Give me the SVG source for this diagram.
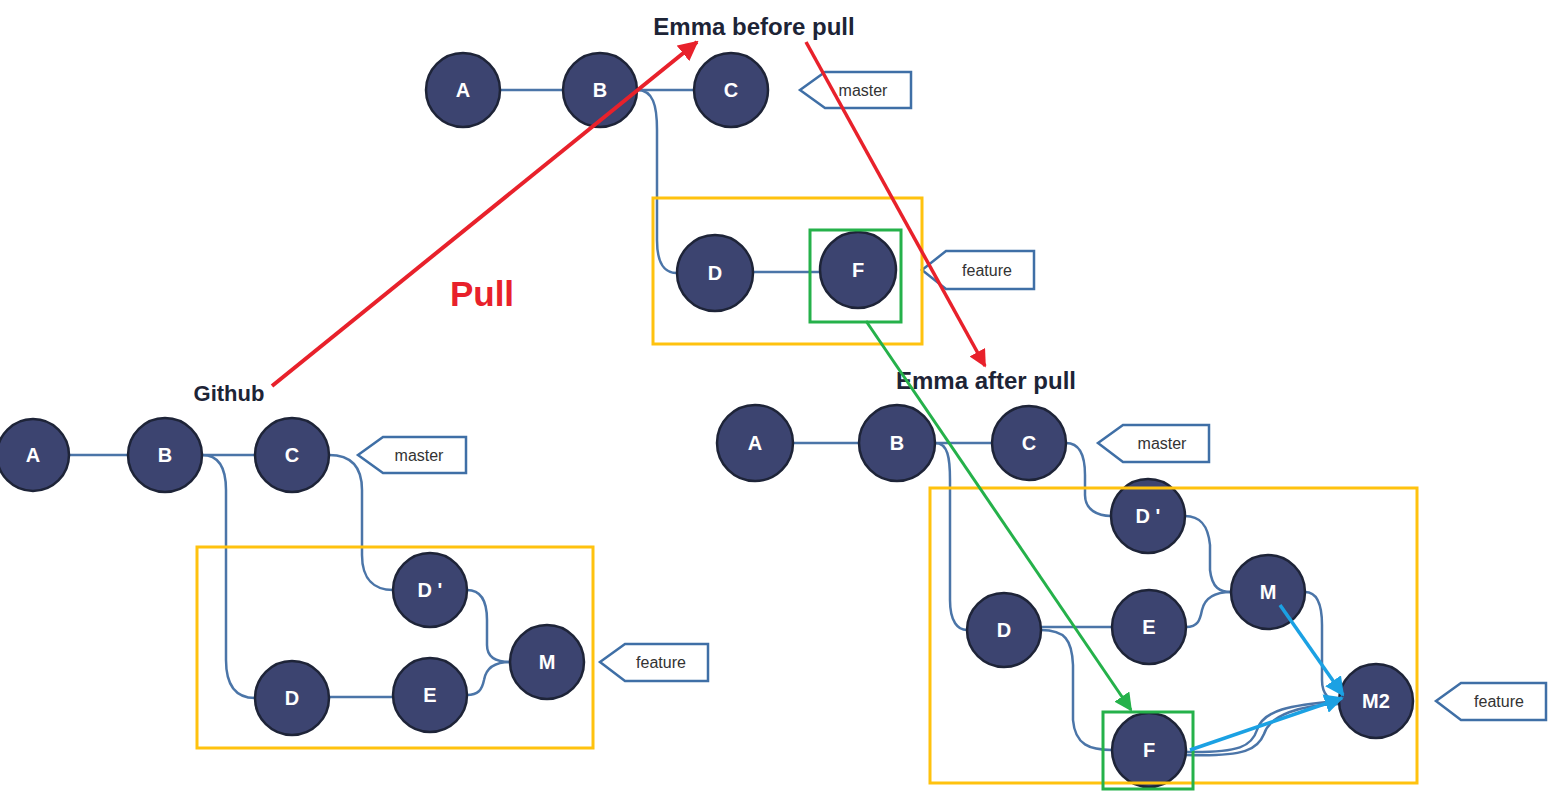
<svg xmlns="http://www.w3.org/2000/svg" width="1555" height="793" viewBox="0 0 1555 793">
<defs>
<style>
.node circle{fill:#3c4470;stroke:#1e2438;stroke-width:2.5}
.node text{fill:#fff;font-family:"Liberation Sans",Arial,sans-serif;font-size:20px;font-weight:bold;text-anchor:middle;dominant-baseline:central}
.edge{fill:none;stroke:#4b75a8;stroke-width:2.5}
.tag polygon{fill:#fff;stroke:#3f6fa6;stroke-width:2.5}
.tag text{fill:#333;font-family:"Liberation Sans",Arial,sans-serif;font-size:16px;text-anchor:middle;dominant-baseline:central}
.title{fill:#1d2436;font-family:"Liberation Sans",Arial,sans-serif;font-weight:bold;text-anchor:middle}
.ybox{fill:none;stroke:#FFC20E;stroke-width:3}
.gbox{fill:none;stroke:#25B14A;stroke-width:3}
</style>
<marker id="ar" viewBox="0 0 10 10" refX="9" refY="5" markerWidth="5" markerHeight="5" orient="auto" markerUnits="strokeWidth"><path d="M0,0 L10,5 L0,10 z" fill="#E8212B"/></marker>
<marker id="ag" viewBox="0 0 10 10" refX="9" refY="5" markerWidth="6" markerHeight="6" orient="auto" markerUnits="strokeWidth"><path d="M0,0 L10,5 L0,10 z" fill="#25B14A"/></marker>
<marker id="ab" viewBox="0 0 10 10" refX="9" refY="5" markerWidth="5.5" markerHeight="5.5" orient="auto" markerUnits="strokeWidth"><path d="M0,0 L10,5 L0,10 z" fill="#1BA1E3"/></marker>
</defs>
<rect width="1555" height="793" fill="#fff"/>

<!-- Titles -->
<text class="title" x="754" y="35" font-size="24">Emma before pull</text>
<text class="title" x="229" y="401" font-size="22">Github</text>
<text class="title" x="986" y="389" font-size="24">Emma after pull</text>
<text x="482" y="306" fill="#E8212B" font-family="'Liberation Sans',Arial,sans-serif" font-weight="bold" font-size="35" text-anchor="middle">Pull</text>

<!-- Connectors between commits -->
<g id="connectors">
<path class="edge" d="M501,90 H563"/>
<path class="edge" d="M637,90 H694"/>
<path class="edge" d="M637,90 C653,90 657,105 657,130 V240 C657,265 665,273 677,273"/>
<path class="edge" d="M753,272 H820"/>

<path class="edge" d="M70,455 H128"/>
<path class="edge" d="M202,455 H255"/>
<path class="edge" d="M202,455 C220,455 226,470 226,490 V660 C226,690 240,698 255,698"/>
<path class="edge" d="M329,455 C350,455 362,465 362,490 V555 C362,580 375,590 393,590"/>
<path class="edge" d="M329,697 H393"/>
<path class="edge" d="M467,590 C480,590 487,600 487,620 V645 C487,660 500,662 510,662"/>
<path class="edge" d="M467,695 C478,695 482,690 484,680 C486,668 495,662 510,662"/>

<path class="edge" d="M793,443 H860"/>
<path class="edge" d="M935,443 H992"/>
<path class="edge" d="M935,443 C948,443 950,458 950,480 V600 C950,622 958,630 967,630"/>
<path class="edge" d="M1066,443 C1080,443 1085,455 1085,475 V495 C1085,510 1098,516 1111,516"/>
<path class="edge" d="M1041,627 H1112"/>
<path class="edge" d="M1185,516 C1200,516 1208,525 1210,545 V570 C1212,588 1220,592 1231,592"/>
<path class="edge" d="M1186,627 C1198,627 1200,620 1202,610 C1205,597 1215,592 1231,592"/>
<path class="edge" d="M1041,630 C1065,630 1072,640 1073,665 V720 C1075,745 1090,750 1112,750"/>
<path class="edge" d="M1305,592 C1318,592 1322,605 1322,625 V680 C1322,695 1330,701 1339,701"/>
<path class="edge" d="M1186,752 C1240,753 1252,746 1257,730 C1263,710 1290,705 1339,701"/>
<path class="edge" d="M1186,755 C1246,757 1258,749 1264,734 C1270,715 1300,705 1339,704"/>
</g>

<!-- Emma before pull nodes -->
<g id="top-A" class="node"><circle cx="463" cy="90" r="37"/><text x="463" y="90">A</text></g>
<g id="top-B" class="node"><circle cx="600" cy="90" r="37"/><text x="600" y="90">B</text></g>
<g id="top-C" class="node"><circle cx="731" cy="90" r="37"/><text x="731" y="90">C</text></g>
<g id="top-D" class="node"><circle cx="715" cy="273" r="38"/><text x="715" y="273">D</text></g>
<g id="top-F" class="node"><circle cx="858" cy="270" r="38"/><text x="858" y="270">F</text></g>
<g id="top-master" class="tag"><polygon points="800,90 825,72 911,72 911,108 825,108"/><text x="863" y="90">master</text></g>
<g id="top-feature" class="tag"><polygon points="922,270 946,251 1034,251 1034,289 946,289"/><text x="987" y="270">feature</text></g>

<!-- Github nodes -->
<g id="gh-A" class="node"><circle cx="33" cy="455" r="36"/><text x="33" y="455">A</text></g>
<g id="gh-B" class="node"><circle cx="165" cy="455" r="37"/><text x="165" y="455">B</text></g>
<g id="gh-C" class="node"><circle cx="292" cy="455" r="37"/><text x="292" y="455">C</text></g>
<g id="gh-Dp" class="node"><circle cx="430" cy="590" r="37"/><text x="430" y="590">D '</text></g>
<g id="gh-D" class="node"><circle cx="292" cy="698" r="37"/><text x="292" y="698">D</text></g>
<g id="gh-E" class="node"><circle cx="430" cy="695" r="37"/><text x="430" y="695">E</text></g>
<g id="gh-M" class="node"><circle cx="547" cy="662" r="37"/><text x="547" y="662">M</text></g>
<g id="gh-master" class="tag"><polygon points="358,455 383,437 466,437 466,473 383,473"/><text x="419" y="455">master</text></g>
<g id="gh-feature" class="tag"><polygon points="600,662 625,644 708,644 708,681 625,681"/><text x="661" y="662">feature</text></g>

<!-- Emma after pull nodes -->
<g id="af-A" class="node"><circle cx="755" cy="443" r="38"/><text x="755" y="443">A</text></g>
<g id="af-B" class="node"><circle cx="897" cy="443" r="38"/><text x="897" y="443">B</text></g>
<g id="af-C" class="node"><circle cx="1029" cy="443" r="37"/><text x="1029" y="443">C</text></g>
<g id="af-Dp" class="node"><circle cx="1148" cy="516" r="37"/><text x="1148" y="516">D '</text></g>
<g id="af-D" class="node"><circle cx="1004" cy="630" r="37"/><text x="1004" y="630">D</text></g>
<g id="af-E" class="node"><circle cx="1149" cy="627" r="37"/><text x="1149" y="627">E</text></g>
<g id="af-M" class="node"><circle cx="1268" cy="592" r="37"/><text x="1268" y="592">M</text></g>
<g id="af-M2" class="node"><circle cx="1376" cy="701" r="37"/><text x="1376" y="701">M2</text></g>
<g id="af-F" class="node"><circle cx="1149" cy="750" r="37"/><text x="1149" y="750">F</text></g>
<g id="af-master" class="tag"><polygon points="1098,443 1123,425 1209,425 1209,462 1123,462"/><text x="1162" y="443">master</text></g>
<g id="af-feature" class="tag"><polygon points="1436,701 1461,683 1546,683 1546,720 1461,720"/><text x="1499" y="701">feature</text></g>

<!-- Highlight boxes -->
<g id="highlights">
<rect class="ybox" x="653" y="198" width="269" height="146"/>
<rect class="gbox" x="810" y="230" width="91" height="92"/>
<rect class="ybox" x="197" y="547" width="396" height="201"/>
<rect class="ybox" x="930" y="488" width="487" height="295"/>
<rect class="gbox" x="1103" y="712" width="90" height="77"/>
</g>

<!-- Annotation arrows -->
<g id="arrows">
<line x1="272" y1="386" x2="697" y2="42" stroke="#E8212B" stroke-width="4" marker-end="url(#ar)"/>
<line x1="806" y1="42" x2="985" y2="366" stroke="#E8212B" stroke-width="3.5" marker-end="url(#ar)"/>
<line x1="866" y1="321" x2="1131" y2="710" stroke="#25B14A" stroke-width="3" marker-end="url(#ag)"/>
<line x1="1280" y1="605" x2="1343" y2="695" stroke="#1BA1E3" stroke-width="3.5" marker-end="url(#ab)"/>
<line x1="1190" y1="750" x2="1342" y2="698" stroke="#1BA1E3" stroke-width="3.5" marker-end="url(#ab)"/>
</g>
</svg>
